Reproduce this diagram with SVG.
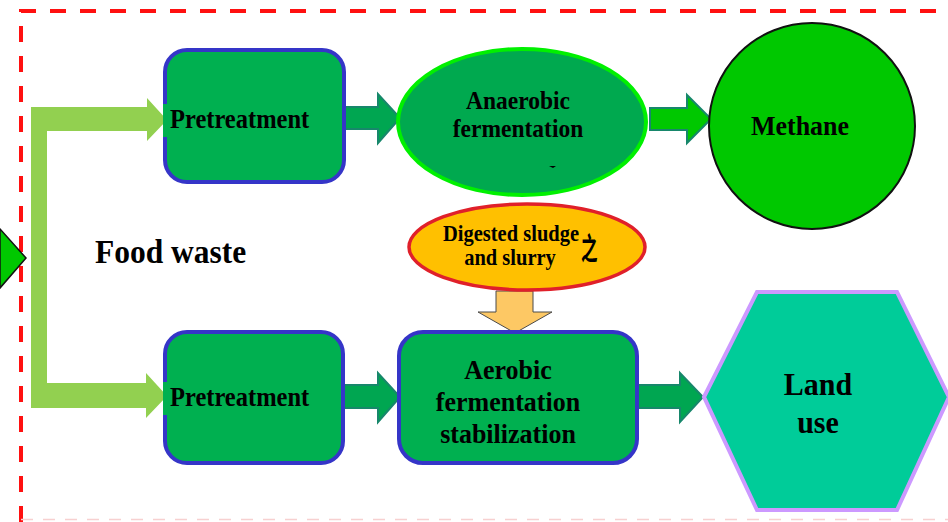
<svg xmlns="http://www.w3.org/2000/svg" width="948" height="522" viewBox="0 0 948 522">
  <style>
    .lbl { font-family: "Liberation Serif", "Times New Roman", serif; font-weight: bold; fill: #000; }
    .mid { text-anchor: middle; }
    .box { fill: #00b050; stroke: #3535c8; stroke-width: 4; }
    .flow { fill: #00a651; stroke: #17876b; stroke-width: 2; stroke-linejoin: miter; }
  </style>

  <rect width="948" height="522" fill="#ffffff"/>

  <!-- dashed frame -->
  <g id="frame" fill="none">
    <path d="M21,522 V11 H948" stroke="#ff1010" stroke-width="4" stroke-dasharray="16 14"/>
    <path d="M21,519.5 H948" stroke="#f7d0d0" stroke-width="1.5" stroke-dasharray="12 10"/>
  </g>

  <!-- connectors -->
  <g id="connectors">
    <!-- incoming arrow at the left edge -->
    <polygon points="0,229 26,258 0,288" fill="#00c800" stroke="#111" stroke-width="1.5"/>
    <!-- food waste split into two branches -->
    <path d="M31,107 H147 V98 L167,120 L147,141 V131 H47 V383 H146 V373 L167,396 L146,418 V408 H31 Z" fill="#92d050"/>
    <!-- pretreatment -> anaerobic fermentation -->
    <path class="flow" d="M344,107 H378 V94 L400,118 L378,143 V129 H344 Z"/>
    <!-- anaerobic fermentation -> methane -->
    <path class="flow" style="fill:#00c800" d="M650,108 H687 V95 L711,119 L687,143 V130 H650 Z"/>
    <!-- digested sludge -> aerobic -->
    <path d="M496,291 H533 V312 H552 L515,333 L478,312 H496 Z" fill="#fdc864" stroke="#4a4a4a" stroke-width="1"/>
    <!-- pretreatment -> aerobic -->
    <path class="flow" d="M343,385 H378 V373 L400,397 L378,422 V408 H343 Z"/>
    <!-- aerobic -> land use -->
    <path class="flow" d="M637,385 H680 V373 L703,397 L680,422 V408 H637 Z"/>
  </g>

  <g id="food-waste">
    <text class="lbl" transform="translate(95,263) scale(1,1.08)" font-size="31.5">Food waste</text>
  </g>

  <g id="pretreatment-top">
    <rect class="box" x="165" y="50" width="179" height="132" rx="22"/>
    <rect x="163" y="104" width="12" height="33" fill="#00b050"/>
    <text class="lbl" transform="translate(170,128) scale(1,1.1)" font-size="24.5">Pretreatment</text>
  </g>

  <g id="anaerobic">
    <ellipse cx="522" cy="122" rx="124" ry="73" fill="#00a94f" stroke="#00f000" stroke-width="4"/>
    <text class="lbl mid" transform="translate(518,109) scale(1,1.08)" font-size="23.5">Anaerobic</text>
    <text class="lbl mid" transform="translate(518,137) scale(1,1.08)" font-size="23.5">fermentation</text>
    <path d="M549,166 L556,166 L553,168 Z" fill="#000"/>
  </g>

  <g id="methane">
    <circle cx="812" cy="126" r="103" fill="#00c800" stroke="#111" stroke-width="2"/>
    <text class="lbl mid" transform="translate(800,135) scale(1,1.08)" font-size="26">Methane</text>
  </g>

  <g id="digested">
    <ellipse cx="527" cy="247" rx="118" ry="43" fill="#ffc000" stroke="#e0202a" stroke-width="3.5"/>
    <text class="lbl mid" transform="translate(511,241) scale(1,1.1)" font-size="20.5">Digested sludge</text>
    <text class="lbl mid" transform="translate(510,265) scale(1,1.1)" font-size="20.5">and slurry</text>
    <text transform="translate(581,259) scale(0.72,1.3)" font-size="23" font-weight="bold" font-family="'Noto Sans CJK SC', sans-serif" fill="#000">之</text>
  </g>

  <g id="pretreatment-bottom">
    <rect class="box" x="165" y="332" width="178" height="131" rx="22"/>
    <rect x="163" y="382" width="12" height="33" fill="#00b050"/>
    <text class="lbl" transform="translate(170,406) scale(1,1.1)" font-size="24.5">Pretreatment</text>
  </g>

  <g id="aerobic">
    <rect class="box" x="399" y="332" width="238" height="131" rx="24"/>
    <text class="lbl mid" transform="translate(508,379) scale(1,1.08)" font-size="26">Aerobic</text>
    <text class="lbl mid" transform="translate(508,411) scale(1,1.08)" font-size="26">fermentation</text>
    <text class="lbl mid" transform="translate(508,443) scale(1,1.08)" font-size="26">stabilization</text>
  </g>

  <g id="land-use">
    <polygon points="704,397 757,292 897,292 949,397 897,510 757,510" fill="#00cc99" stroke="#cc99ff" stroke-width="4"/>
    <text class="lbl mid" transform="translate(818,395) scale(1,1.08)" font-size="30">Land</text>
    <text class="lbl mid" transform="translate(818,433) scale(1,1.08)" font-size="30">use</text>
  </g>
</svg>
